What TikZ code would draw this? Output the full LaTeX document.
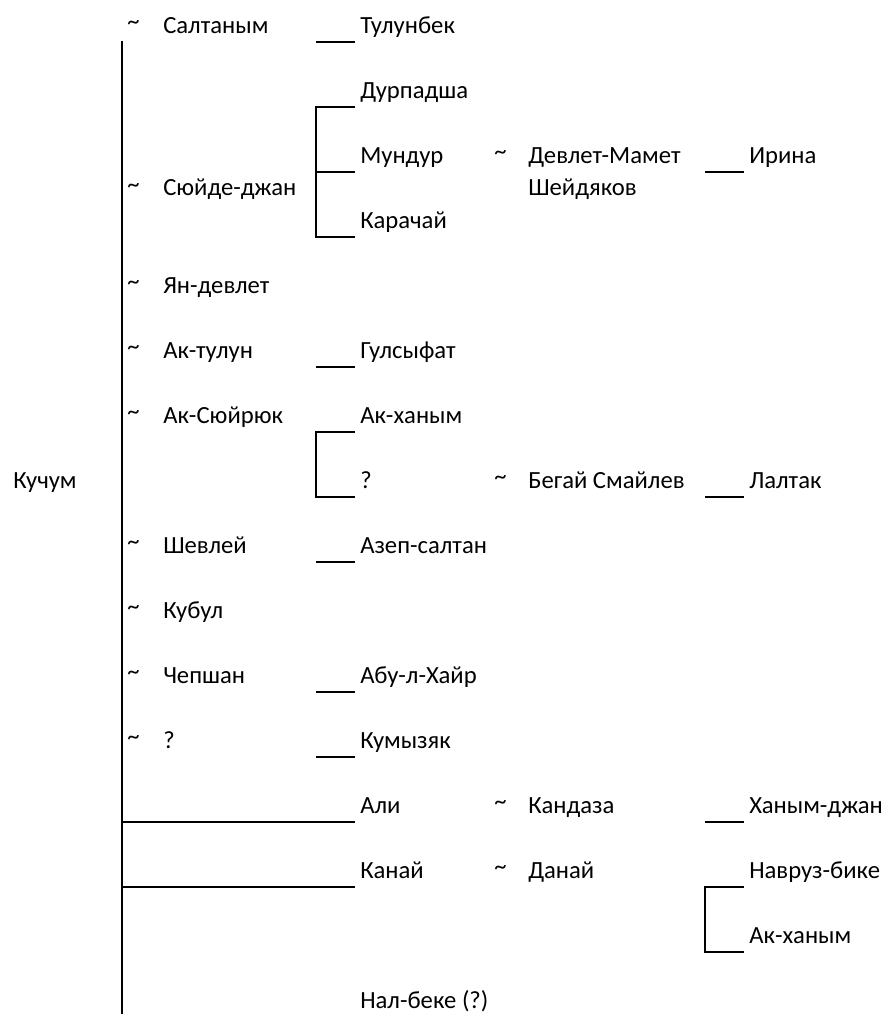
\documentclass[tikz,border=0pt]{standalone}
\usepackage{fontspec}
\setmainfont{Carlito}
\usetikzlibrary{calc}
\tikzset{
	who/.style={anchor=base west, inner sep=0pt, font=\fontsize{18.5}{20}\selectfont},
	wed/.style={who, yshift=2.5pt},
	lnk/.style={line width=1.5pt},
}
\def\tie#1{\draw[lnk] ($(#1.base west)+(-44,8.5)$) -- ++(39,0);}
\def\fork#1#2{\draw[lnk] ($(#1.base west)+(-5,8.5)$) -- ++(-39,0) |- ($(#2.base west)+(-5,8.5)$);}

\begin{document}
\begin{tikzpicture}[x=0.75pt, y=-0.75pt]
		%%%%% START %%%%%
		\useasboundingbox (0,0) rectangle (886,1014);
		
		\node[who] (kuchum) at (13, 488) {Кучум};
		\draw[lnk] (122, 41) -- (122, 1014);
		
		% wives
		\foreach \y in {33, 195.5, 293, 358, 423, 553, 618, 683, 748}
			\node[wed] (t\y) at (127, \y) {\textasciitilde};
		\node[who] (saltanym) at (163, 33) {Салтаным};
		\node[who] (suyde) at (163, 195.5) {Сюйде-джан};
		\node[who] (yandevlet) at (163, 293) {Ян-девлет};
		\node[who] (aktulun) at (163, 358) {Ак-тулун};
		\node[who] (aksuyruk) at (163, 423) {Ак-Сюйрюк};
		\node[who] (shevlei) at (163, 553) {Шевлей};
		\node[who] (kubul) at (163, 618) {Кубул};
		\node[who] (chepshan) at (163, 683) {Чепшан};
		\node[who] (unknown) at (163, 748) {?};
		
		% children
		\node[who] (tulunbek) at (360, 33) {Тулунбек};
		\node[who] (durpadsha) at (360, 98) {Дурпадша};
		\node[who] (mundur) at (360, 163) {Мундур};
		\node[who] (karachai) at (360, 228) {Карачай};
		\node[who] (gulsyfat) at (360, 358) {Гулсыфат};
		\node[who] (akhanym) at (360, 423) {Ак-ханым};
		\node[who] (unknownb) at (360, 488) {?};
		\node[who] (azep) at (360, 553) {Азеп-салтан};
		\node[who] (abul) at (360, 683) {Абу-л-Хайр};
		\node[who] (kumyzyak) at (360, 748) {Кумызяк};
		\node[who] (ali) at (360, 813) {Али};
		\node[who] (kanai) at (360, 878) {Канай};
		\node[who] (nalbeke) at (360, 1008) {Нал-беке (?)};
		
		\tie{tulunbek}
		\fork{durpadsha}{karachai}
		\tie{mundur}
		\tie{gulsyfat}
		\fork{akhanym}{unknownb}
		\tie{azep}
		\tie{abul}
		\tie{kumyzyak}
		\draw[lnk] (122, 821.5) -- ($(ali.base west)+(-5,8.5)$);
		\draw[lnk] (122, 886.5) -- ($(kanai.base west)+(-5,8.5)$);
		
		% spouses of children
		\foreach \y in {163, 488, 813, 878}
			\node[wed] (s\y) at (494, \y) {\textasciitilde};
		\node[who] (devlet) at (528, 163) {Девлет-Мамет};
		\node[who] (sheidyakov) at (528, 195) {Шейдяков};
		\node[who] (begai) at (528, 488) {Бегай Смайлев};
		\node[who] (kandaza) at (528, 813) {Кандаза};
		\node[who] (danai) at (528, 878) {Данай};
		
		% grandchildren
		\node[who] (irina) at (749, 163) {Ирина};
		\node[who] (laltak) at (749, 488) {Лалтак};
		\node[who] (khanymdzhan) at (749, 813) {Ханым-джан};
		\node[who] (navruz) at (749, 878) {Навруз-бике};
		\node[who] (akhanymb) at (749, 943) {Ак-ханым};
		
		\tie{irina}
		\tie{laltak}
		\tie{khanymdzhan}
		\fork{navruz}{akhanymb}
		%%%%% END %%%%%
\end{tikzpicture}
\end{document}
